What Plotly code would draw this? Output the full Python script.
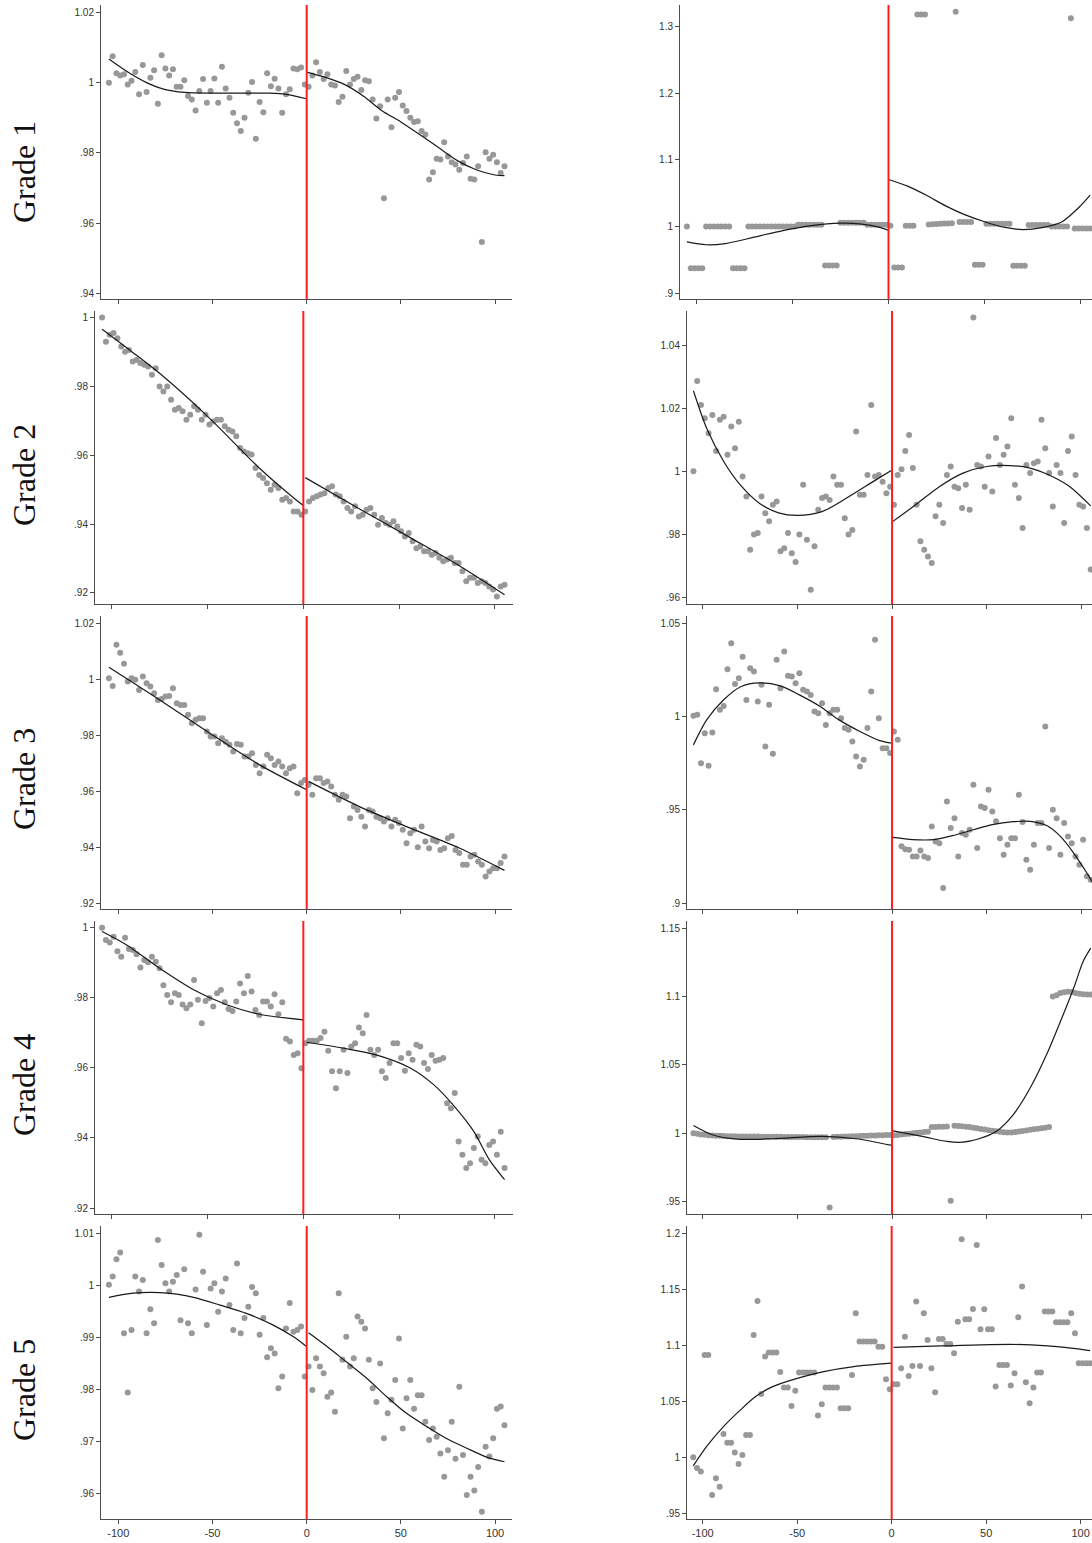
import plotly.graph_objects as go

W, H = 1092, 1543

# ---------------- running variable (x) grids ----------------
X_LEFT = list(range(-105, 0, 2))    # -105 ... -1
X_RIGHT = list(range(1, 106, 2))    # 1 ... 105
X_TICKS = [-100, -50, 0, 50, 100]
ROW_LABELS = ["Grade 1", "Grade 2", "Grade 3", "Grade 4", "Grade 5"]

# ---------------- Grade 1, left column ----------------
g1a_left = [1.0000, 1.0075, 1.0027, 1.0020, 1.0024, 0.9995, 1.0005, 1.0030, 0.9967, 1.0050,
            0.9973, 1.0014, 1.0035, 0.9940, 1.0078, 1.0040, 1.0020, 1.0038, 0.9988, 0.9988,
            1.0007, 0.9962, 0.9952, 0.9921, 0.9976, 1.0010, 0.9943, 0.9976, 1.0012, 0.9943,
            1.0045, 0.9983, 0.9957, 0.9914, 0.9884, 0.9862, 0.9900, 0.9971, 1.0002, 0.9840,
            0.9945, 0.9916, 1.0027, 0.9990, 1.0011, 0.9983, 0.9914, 0.9967, 0.9981, 1.0040,
            1.0038, 1.0043, 0.9995]
g1a_right = [0.9988, 1.0020, 1.0058, 1.0030, 1.0010, 1.0024, 0.9995, 0.9992, 0.9945, 0.9960,
             1.0033, 0.9995, 1.0010, 1.0017, 0.9979, 1.0007, 1.0004, 0.9952, 0.9898, 0.9933,
             0.9671, 0.9952, 0.9873, 0.9957, 0.9973, 0.9935, 0.9919, 0.9900, 0.9888, 0.9890,
             0.9862, 0.9852, 0.9724, 0.9745, 0.9783, 0.9781, 0.9830, 0.9790, 0.9773, 0.9767,
             0.9752, 0.9771, 0.9790, 0.9726, 0.9724, 0.9762, 0.9546, 0.9802, 0.9783, 0.9795,
             0.9773, 0.9743, 0.9762]
g1a_fitL_x = [-105, -95, -85, -75, -65, -50, -35, -20, -10, 0]
g1a_fitL_y = [1.0067, 1.0030, 1.0000, 0.9980, 0.9972, 0.9970, 0.9970, 0.9970, 0.9966, 0.9954]
g1a_fitR_x = [0, 10, 20, 30, 40, 50, 60, 70, 80, 90, 100, 105]
g1a_fitR_y = [1.0030, 1.0015, 0.9995, 0.9962, 0.9920, 0.9888, 0.9852, 0.9815, 0.9778, 0.9752, 0.9737, 0.9735]

# ---------------- Grade 1, right column ----------------
g1b_left = [1.0000, 0.9376, 0.9376, 0.9376, 0.9376, 1.0000, 1.0000, 1.0000, 1.0000, 1.0000,
            1.0000, 1.0000, 0.9376, 0.9376, 0.9376, 0.9376, 1.0000, 1.0000, 1.0000, 1.0000,
            1.0000, 1.0000, 1.0000, 1.0000, 1.0000, 1.0000, 1.0000, 1.0000, 1.0000, 1.0025,
            1.0025, 1.0025, 1.0025, 1.0025, 1.0025, 1.0025, 0.9416, 0.9416, 0.9416, 0.9416,
            1.0055, 1.0055, 1.0055, 1.0055, 1.0055, 1.0055, 1.0055, 1.0025, 1.0025, 1.0025,
            1.0025, 1.0025, 1.0025]
g1b_right = [1.0010, 0.9386, 0.9386, 0.9386, 1.0013, 1.0013, 1.0013, 1.3176, 1.3176, 1.3176,
             1.0030, 1.0033, 1.0037, 1.0040, 1.0044, 1.0047, 1.0050, 1.3220, 1.0068, 1.0068,
             1.0068, 1.0068, 0.9426, 0.9426, 0.9426, 1.0043, 1.0043, 1.0043, 1.0043, 1.0043,
             1.0043, 1.0043, 0.9411, 0.9411, 0.9411, 0.9411, 1.0023, 1.0023, 1.0023, 1.0023,
             1.0023, 1.0023, 1.0000, 1.0000, 1.0000, 1.0000, 1.0000, 1.3120, 0.9970, 0.9970,
             0.9970, 0.9970, 0.9970]
g1b_fitL_x = [-105, -95, -85, -70, -55, -40, -25, -15, -5, 0]
g1b_fitL_y = [0.9770, 0.9727, 0.9745, 0.9840, 0.9940, 1.0015, 1.0050, 1.0040, 0.9990, 0.9942]
g1b_fitR_x = [0, 10, 20, 30, 40, 50, 60, 70, 80, 90, 100, 105]
g1b_fitR_y = [1.0705, 1.0605, 1.0464, 1.0306, 1.0174, 1.0072, 0.9990, 0.9955, 0.9985, 1.0065, 1.0310, 1.0470]

# ---------------- Grade 2, left column ----------------
g2a_left = [1.0000, 0.9930, 0.9950, 0.9955, 0.9940, 0.9916, 0.9901, 0.9906, 0.9872, 0.9877,
            0.9868, 0.9863, 0.9858, 0.9834, 0.9853, 0.9800, 0.9785, 0.9800, 0.9761, 0.9732,
            0.9737, 0.9728, 0.9703, 0.9718, 0.9742, 0.9732, 0.9703, 0.9718, 0.9689, 0.9698,
            0.9703, 0.9703, 0.9684, 0.9674, 0.9669, 0.9655, 0.9621, 0.9611, 0.9606, 0.9602,
            0.9563, 0.9543, 0.9534, 0.9519, 0.9500, 0.9514, 0.9505, 0.9471, 0.9476, 0.9466,
            0.9437, 0.9437, 0.9427]
g2a_right = [0.9437, 0.9466, 0.9476, 0.9481, 0.9486, 0.9490, 0.9505, 0.9510, 0.9486, 0.9481,
             0.9466, 0.9447, 0.9437, 0.9452, 0.9422, 0.9427, 0.9442, 0.9447, 0.9427, 0.9398,
             0.9418, 0.9403, 0.9398, 0.9408, 0.9393, 0.9379, 0.9364, 0.9374, 0.9350, 0.9330,
             0.9335, 0.9321, 0.9321, 0.9311, 0.9316, 0.9302, 0.9292, 0.9297, 0.9302, 0.9287,
             0.9287, 0.9263, 0.9234, 0.9244, 0.9244, 0.9229, 0.9234, 0.9229, 0.9219, 0.9210,
             0.9190, 0.9219, 0.9224]
g2a_fitL_x = [-105, -90, -75, -49, -23, -5, 0]
g2a_fitL_y = [0.9966, 0.9903, 0.9838, 0.9708, 0.9563, 0.9476, 0.9454]
g2a_fitR_x = [1, 30, 56, 82, 105]
g2a_fitR_y = [0.9535, 0.9442, 0.9360, 0.9277, 0.9195]

# ---------------- Grade 2, right column ----------------
g2b_left = [1.0000, 1.0286, 1.0210, 1.0168, 1.0120, 1.0178, 1.0064, 1.0163, 1.0173, 1.0052,
            1.0142, 1.0073, 1.0157, 0.9983, 0.9920, 0.9751, 0.9799, 0.9804, 0.9920, 0.9867,
            0.9841, 0.9894, 0.9904, 0.9746, 0.9756, 0.9804, 0.9740, 0.9712, 0.9799, 0.9957,
            0.9783, 0.9624, 0.9762, 0.9878, 0.9915, 0.9920, 0.9909, 0.9983, 0.9957, 0.9957,
            0.9851, 0.9799, 0.9814, 1.0126, 0.9925, 0.9925, 0.9988, 1.0210, 0.9983, 0.9988,
            0.9967, 0.9930, 0.9951]
g2b_right = [0.9894, 0.9988, 1.0006, 1.0064, 1.0115, 1.0010, 0.9894, 0.9778, 0.9751, 0.9730,
             0.9709, 0.9857, 0.9894, 0.9836, 0.9988, 1.0015, 0.9951, 0.9946, 0.9883, 0.9957,
             0.9878, 1.0487, 1.0020, 1.0015, 0.9951, 1.0047, 0.9936, 1.0105, 1.0020, 1.0052,
             1.0078, 1.0168, 0.9957, 0.9915, 0.9820, 1.0020, 0.9994, 1.0025, 1.0031, 1.0163,
             1.0073, 0.9994, 0.9888, 1.0020, 0.9994, 0.9836, 1.0064, 1.0110, 0.9988, 0.9894,
             0.9888, 0.9820, 0.9688]
g2b_fitL_x = [-105, -98, -89, -80, -70, -60, -50, -37, -24, -10, 0]
g2b_fitL_y = [1.0255, 1.0136, 1.0031, 0.9955, 0.9898, 0.9868, 0.9860, 0.9872, 0.9915, 0.9967, 1.0004]
g2b_fitR_x = [0.5, 13, 25, 37.5, 50, 62, 73, 83, 94, 105]
g2b_fitR_y = [0.9841, 0.9896, 0.9951, 0.9994, 1.0015, 1.0018, 1.0010, 0.9988, 0.9951, 0.9890]

# ---------------- Grade 3, left column ----------------
g3a_left = [1.0004, 0.9976, 1.0123, 1.0095, 1.0055, 0.9992, 1.0004, 0.9998, 0.9962, 1.0010,
            0.9986, 0.9974, 0.9950, 0.9926, 0.9929, 0.9938, 0.9940, 0.9968, 0.9914, 0.9908,
            0.9908, 0.9873, 0.9843, 0.9855, 0.9861, 0.9861, 0.9813, 0.9795, 0.9795, 0.9771,
            0.9789, 0.9777, 0.9766, 0.9742, 0.9769, 0.9766, 0.9724, 0.9724, 0.9736, 0.9694,
            0.9664, 0.9688, 0.9730, 0.9718, 0.9694, 0.9706, 0.9688, 0.9664, 0.9682, 0.9688,
            0.9593, 0.9629, 0.9640]
g3a_right = [0.9623, 0.9587, 0.9646, 0.9646, 0.9629, 0.9635, 0.9617, 0.9587, 0.9569, 0.9587,
             0.9581, 0.9503, 0.9545, 0.9533, 0.9509, 0.9474, 0.9533, 0.9527, 0.9509, 0.9503,
             0.9492, 0.9503, 0.9474, 0.9498, 0.9486, 0.9462, 0.9414, 0.9450, 0.9462, 0.9400,
             0.9474, 0.9420, 0.9396, 0.9426, 0.9420, 0.9390, 0.9396, 0.9432, 0.9440, 0.9390,
             0.9379, 0.9337, 0.9337, 0.9367, 0.9373, 0.9349, 0.9337, 0.9295, 0.9313, 0.9325,
             0.9325, 0.9343, 0.9367]
g3a_fitL_x = [-105, -78, -51, -25, 0]
g3a_fitL_y = [1.0043, 0.9926, 0.9805, 0.9694, 0.9605]
g3a_fitR_x = [1, 28, 55, 81, 105]
g3a_fitR_y = [0.9635, 0.9545, 0.9468, 0.9397, 0.9317]

# ---------------- Grade 3, right column ----------------
g3b_left = [1.0004, 1.0009, 0.9750, 0.9911, 0.9736, 0.9914, 1.0146, 1.0036, 1.0057, 1.0254,
            1.0393, 1.0175, 1.0205, 1.0321, 1.0089, 1.0259, 1.0241, 1.0080, 1.0170, 0.9839,
            1.0063, 0.9800, 1.0304, 1.0152, 1.0348, 1.0218, 1.0214, 1.0179, 1.0232, 1.0143,
            1.0134, 1.0116, 1.0027, 1.0018, 1.0071, 0.9955, 1.0018, 1.0036, 1.0036, 0.9991,
            0.9938, 0.9929, 0.9866, 0.9786, 0.9732, 0.9768, 0.9938, 1.0134, 1.0411, 0.9991,
            0.9830, 0.9830, 0.9804]
g3b_right = [0.9920, 0.9875, 0.9304, 0.9289, 0.9286, 0.9250, 0.9250, 0.9282, 0.9250, 0.9241,
             0.9411, 0.9330, 0.9321, 0.9080, 0.9545, 0.9402, 0.9455, 0.9250, 0.9375, 0.9366,
             0.9393, 0.9634, 0.9295, 0.9518, 0.9509, 0.9607, 0.9491, 0.9438, 0.9348, 0.9259,
             0.9313, 0.9348, 0.9348, 0.9580, 0.9434, 0.9232, 0.9179, 0.9313, 0.9429, 0.9429,
             0.9946, 0.9295, 0.9500, 0.9455, 0.9259, 0.9429, 0.9357, 0.9321, 0.9250, 0.9205,
             0.9339, 0.9143, 0.9125]
g3b_fitL_x = [-105, -98, -89, -80, -70, -59, -49, -38, -28, -17, -6.5, 0]
g3b_fitL_y = [0.9848, 0.9982, 1.0090, 1.0160, 1.0180, 1.0164, 1.0116, 1.0054, 0.9982, 0.9920, 0.9871, 0.9857]
g3b_fitR_x = [0.5, 11, 22, 32, 43, 53, 64, 73, 82, 89, 96, 103, 106]
g3b_fitR_y = [0.9352, 0.9340, 0.9340, 0.9361, 0.9393, 0.9420, 0.9436, 0.9438, 0.9414, 0.9357, 0.9268, 0.9161, 0.9110]

# ---------------- Grade 4, left column ----------------
g4a_left = [1.0000, 0.9965, 0.9958, 0.9974, 0.9933, 0.9917, 0.9971, 0.9939, 0.9936, 0.9924,
            0.9886, 0.9908, 0.9901, 0.9917, 0.9903, 0.9884, 0.9836, 0.9808, 0.9787, 0.9813,
            0.9808, 0.9781, 0.9770, 0.9781, 0.9851, 0.9794, 0.9727, 0.9791, 0.9799, 0.9775,
            0.9813, 0.9822, 0.9787, 0.9768, 0.9762, 0.9789, 0.9841, 0.9813, 0.9862, 0.9818,
            0.9765, 0.9751, 0.9789, 0.9789, 0.9775, 0.9810, 0.9753, 0.9787, 0.9683, 0.9675,
            0.9637, 0.9642, 0.9599]
g4a_right = [0.9670, 0.9677, 0.9677, 0.9677, 0.9685, 0.9703, 0.9649, 0.9590, 0.9542, 0.9590,
             0.9652, 0.9585, 0.9661, 0.9670, 0.9715, 0.9699, 0.9751, 0.9652, 0.9637, 0.9652,
             0.9590, 0.9571, 0.9614, 0.9670, 0.9670, 0.9628, 0.9592, 0.9642, 0.9623, 0.9666,
             0.9661, 0.9614, 0.9597, 0.9637, 0.9620, 0.9623, 0.9628, 0.9499, 0.9485, 0.9528,
             0.9390, 0.9352, 0.9314, 0.9328, 0.9371, 0.9404, 0.9338, 0.9328, 0.9380, 0.9390,
             0.9352, 0.9418, 0.9314]
g4a_fitL_x = [-105, -92, -75, -57, -40, -23, 0]
g4a_fitL_y = [0.9989, 0.9950, 0.9884, 0.9822, 0.9780, 0.9753, 0.9737]
g4a_fitR_x = [1.7, 21, 38, 56, 68, 78, 89, 97, 105]
g4a_fitR_y = [0.9673, 0.9656, 0.9637, 0.9599, 0.9552, 0.9495, 0.9418, 0.9338, 0.9281]

# ---------------- Grade 4, right column ----------------
g4b_left = [1.0000, 0.9995, 0.9990, 0.9988, 0.9985, 0.9983, 0.9981, 0.9980, 0.9979, 0.9978,
            0.9977, 0.9977, 0.9976, 0.9976, 0.9976, 0.9975, 0.9975, 0.9975, 0.9974, 0.9974,
            0.9974, 0.9973, 0.9973, 0.9973, 0.9972, 0.9972, 0.9972, 0.9971, 0.9971, 0.9971,
            0.9970, 0.9970, 0.9970, 0.9969, 0.9969, 0.9969, 0.9456, 0.9972, 0.9973, 0.9974,
            0.9975, 0.9976, 0.9977, 0.9978, 0.9979, 0.9980, 0.9981, 0.9982, 0.9983, 0.9984,
            0.9985, 0.9986, 0.9987]
g4b_right = [0.9985, 0.9987, 0.9990, 0.9993, 0.9996, 0.9999, 1.0002, 1.0005, 1.0008, 1.0011,
             1.0044, 1.0045, 1.0046, 1.0047, 1.0048, 0.9505, 1.0054, 1.0052, 1.0050, 1.0047,
             1.0044, 1.0040, 1.0035, 1.0030, 1.0026, 1.0022, 1.0018, 1.0014, 1.0010, 1.0006,
             1.0005, 1.0005, 1.0008, 1.0012, 1.0016, 1.0020, 1.0024, 1.0028, 1.0032, 1.0036,
             1.0040, 1.0044, 1.1000, 1.1010, 1.1025, 1.1032, 1.1035, 1.1033, 1.1025, 1.1020,
             1.1017, 1.1015, 1.1015]
g4b_fitL_x = [-105, -95, -82, -63, -37, -19, 0]
g4b_fitL_y = [1.0056, 0.9988, 0.9956, 0.9959, 0.9976, 0.9959, 0.9910]
g4b_fitR_x = [0.5, 16, 29, 37.5, 46, 55, 64, 73, 82, 89, 96, 101, 105]
g4b_fitR_y = [1.0017, 0.9976, 0.9939, 0.9934, 0.9959, 1.0012, 1.0134, 1.0330, 1.0585, 1.0817, 1.1061, 1.1256, 1.1354]

# ---------------- Grade 5, left column ----------------
g5a_left = [1.0001, 1.0017, 1.0050, 1.0063, 0.9908, 0.9794, 0.9914, 1.0017, 0.9988, 1.0010,
            0.9908, 0.9954, 0.9927, 1.0087, 1.0039, 1.0004, 0.9988, 1.0007, 1.0020, 0.9933,
            1.0031, 0.9927, 0.9908, 0.9992, 1.0097, 1.0026, 0.9924, 0.9994, 1.0004, 0.9949,
            0.9988, 1.0013, 0.9962, 0.9914, 1.0042, 0.9908, 0.9937, 0.9959, 0.9997, 0.9985,
            0.9905, 0.9937, 0.9862, 0.9879, 0.9869, 0.9802, 0.9825, 0.9917, 0.9966, 0.9911,
            0.9914, 0.9921, 0.9825]
g5a_right = [0.9844, 0.9799, 0.9860, 0.9844, 0.9831, 0.9786, 0.9794, 0.9757, 0.9985, 0.9857,
             0.9901, 0.9844, 0.9860, 0.9940, 0.9930, 0.9917, 0.9857, 0.9802, 0.9776, 0.9850,
             0.9706, 0.9754, 0.9780, 0.9818, 0.9898, 0.9725, 0.9783, 0.9818, 0.9763, 0.9789,
             0.9789, 0.9738, 0.9703, 0.9725, 0.9709, 0.9677, 0.9632, 0.9683, 0.9738, 0.9667,
             0.9805, 0.9674, 0.9597, 0.9632, 0.9606, 0.9651, 0.9565, 0.9690, 0.9671, 0.9706,
             0.9763, 0.9767, 0.9731]
g5a_fitL_x = [-105, -92, -78, -69, -60, -46, -32, -18, -7, 0]
g5a_fitL_y = [0.9977, 0.9985, 0.9986, 0.9983, 0.9977, 0.9962, 0.9946, 0.9924, 0.9901, 0.9882]
g5a_fitR_x = [1, 11, 21, 32, 42.5, 53, 64, 74, 85, 95.5, 105]
g5a_fitR_y = [0.9909, 0.9882, 0.9853, 0.9821, 0.9786, 0.9754, 0.9728, 0.9706, 0.9687, 0.9670, 0.9661]

# ---------------- Grade 5, right column ----------------
g5b_left = [1.0000, 0.9905, 0.9872, 1.0914, 1.0914, 0.9664, 0.9812, 0.9738, 1.0208, 1.0130,
            1.0130, 1.0042, 0.9941, 1.0021, 1.0199, 1.0199, 1.1092, 1.1396, 1.0566, 1.0900,
            1.0935, 1.0935, 1.0935, 1.0762, 1.0622, 1.0622, 1.0458, 1.0595, 1.0756, 1.0756,
            1.0756, 1.0756, 1.0756, 1.0372, 1.0473, 1.0622, 1.0622, 1.0622, 1.0622, 1.0438,
            1.0438, 1.0438, 1.0735, 1.1286, 1.1033, 1.1033, 1.1033, 1.1033, 1.1033, 1.0988,
            1.0988, 1.0696, 1.0607]
g5b_right = [1.0652, 1.0652, 1.0795, 1.1077, 1.0726, 1.0816, 1.1390, 1.0816, 1.1286, 1.1048,
             1.0795, 1.0580, 1.1057, 1.1057, 1.1012, 1.1012, 1.0929, 1.1211, 1.1946, 1.1232,
             1.1232, 1.1324, 1.1896, 1.1143, 1.1321, 1.1143, 1.1143, 1.0631, 1.0825, 1.0825,
             1.0825, 1.0640, 1.0750, 1.1250, 1.1524, 1.0670, 1.0482, 1.0622, 1.0756, 1.0756,
             1.1301, 1.1301, 1.1301, 1.1205, 1.1205, 1.1205, 1.1205, 1.1286, 1.1107, 1.0840,
             1.0840, 1.0840, 1.0840]
g5b_fitL_x = [-105, -98, -89, -80, -72, -63, -50, -36, -20, 0]
g5b_fitL_y = [0.9923, 1.0095, 1.0274, 1.0423, 1.0542, 1.0631, 1.0705, 1.0765, 1.0810, 1.0840]
g5b_fitR_x = [1, 26, 52, 70, 87.5, 96, 105]
g5b_fitR_y = [1.0982, 1.0994, 1.1006, 1.1006, 1.0988, 1.0973, 1.0952]

# ---------------- y-axis ticks per panel ----------------
yt_g1a = [0.94, 0.96, 0.98, 1.0, 1.02]; ytt_g1a = [".94", ".96", ".98", "1", "1.02"]
yt_g1b = [0.9, 1.0, 1.1, 1.2, 1.3];     ytt_g1b = [".9", "1", "1.1", "1.2", "1.3"]
yt_g2a = [0.92, 0.94, 0.96, 0.98, 1.0]; ytt_g2a = [".92", ".94", ".96", ".98", "1"]
yt_g2b = [0.96, 0.98, 1.0, 1.02, 1.04]; ytt_g2b = [".96", ".98", "1", "1.02", "1.04"]
yt_g3a = [0.92, 0.94, 0.96, 0.98, 1.0, 1.02]; ytt_g3a = [".92", ".94", ".96", ".98", "1", "1.02"]
yt_g3b = [0.9, 0.95, 1.0, 1.05];        ytt_g3b = [".9", ".95", "1", "1.05"]
yt_g4a = [0.92, 0.94, 0.96, 0.98, 1.0]; ytt_g4a = [".92", ".94", ".96", ".98", "1"]
yt_g4b = [0.95, 1.0, 1.05, 1.1, 1.15];  ytt_g4b = [".95", "1", "1.05", "1.1", "1.15"]
yt_g5a = [0.96, 0.97, 0.98, 0.99, 1.0, 1.01]; ytt_g5a = [".96", ".97", ".98", ".99", "1", "1.01"]
yt_g5b = [0.95, 1.0, 1.05, 1.1, 1.15, 1.2]; ytt_g5b = [".95", "1", "1.05", "1.1", "1.15", "1.2"]

# ---------------- panel layout (pixel boxes, axis ranges) ----------------
panels = [
    dict(row=0, col=0, L=g1a_left, R=g1a_right, fl=(g1a_fitL_x, g1a_fitL_y), fr=(g1a_fitR_x, g1a_fitR_y),
         px=(101, 512), py=(5, 299), xr=(-109.2, 109.0), yr=(0.9384, 1.0221), yt=yt_g1a, ytt=ytt_g1a),
    dict(row=0, col=1, L=g1b_left, R=g1b_right, fl=(g1b_fitL_x, g1b_fitL_y), fr=(g1b_fitR_x, g1b_fitR_y),
         px=(680, 1092), py=(5, 299), xr=(-108.6, 106.0), yr=(0.8914, 1.332), yt=yt_g1b, ytt=ytt_g1b),
    dict(row=1, col=0, L=g2a_left, R=g2a_right, fl=(g2a_fitL_x, g2a_fitL_y), fr=(g2a_fitR_x, g2a_fitR_y),
         px=(95, 513), py=(311, 604), xr=(-108.7, 109.4), yr=(0.9168, 1.0019), yt=yt_g2a, ytt=ytt_g2a),
    dict(row=1, col=1, L=g2b_left, R=g2b_right, fl=(g2b_fitL_x, g2b_fitL_y), fr=(g2b_fitR_x, g2b_fitR_y),
         px=(687, 1092), py=(311, 604), xr=(-108.4, 105.7), yr=(0.9579, 1.0508), yt=yt_g2b, ytt=ytt_g2b),
    dict(row=2, col=0, L=g3a_left, R=g3a_right, fl=(g3a_fitL_x, g3a_fitL_y), fr=(g3a_fitR_x, g3a_fitR_y),
         px=(101, 512), py=(616, 909), xr=(-109.2, 109.0), yr=(0.9179, 1.0226), yt=yt_g3a, ytt=ytt_g3a),
    dict(row=2, col=1, L=g3b_left, R=g3b_right, fl=(g3b_fitL_x, g3b_fitL_y), fr=(g3b_fitR_x, g3b_fitR_y),
         px=(687, 1092), py=(616, 909), xr=(-108.4, 105.7), yr=(0.8968, 1.0539), yt=yt_g3b, ytt=ytt_g3b),
    dict(row=3, col=0, L=g4a_left, R=g4a_right, fl=(g4a_fitL_x, g4a_fitL_y), fr=(g4a_fitR_x, g4a_fitR_y),
         px=(95, 513), py=(921, 1214), xr=(-108.7, 109.4), yr=(0.9183, 1.0019), yt=yt_g4a, ytt=ytt_g4a),
    dict(row=3, col=1, L=g4b_left, R=g4b_right, fl=(g4b_fitL_x, g4b_fitL_y), fr=(g4b_fitR_x, g4b_fitR_y),
         px=(687, 1092), py=(921, 1214), xr=(-108.4, 105.7), yr=(0.9408, 1.1553), yt=yt_g4b, ytt=ytt_g4b),
    dict(row=4, col=0, L=g5a_left, R=g5a_right, fl=(g5a_fitL_x, g5a_fitL_y), fr=(g5a_fitR_x, g5a_fitR_y),
         px=(101, 512), py=(1226, 1519), xr=(-109.2, 109.0), yr=(0.9551, 1.0114), yt=yt_g5a, ytt=ytt_g5a),
    dict(row=4, col=1, L=g5b_left, R=g5b_right, fl=(g5b_fitL_x, g5b_fitL_y), fr=(g5b_fitR_x, g5b_fitR_y),
         px=(687, 1092), py=(1226, 1519), xr=(-108.3, 106.0), yr=(0.9449, 1.2065), yt=yt_g5b, ytt=ytt_g5b),
]
LABEL_Y = [172, 475, 779, 1085, 1390]

DOT = "rgb(152,152,152)"
AXC = "#4d4d4d"
TICKFONT = dict(family="Arial, Liberation Sans, sans-serif", size=10, color="#333333")

fig = go.Figure()
layout = dict(width=W, height=H, margin=dict(l=0, r=0, t=0, b=0, pad=0),
              paper_bgcolor="white", plot_bgcolor="white", showlegend=False,
              shapes=[], annotations=[])

for i, p in enumerate(panels, start=1):
    xa = "x" if i == 1 else f"x{i}"
    ya = "y" if i == 1 else f"y{i}"
    for xs, ys in ((X_LEFT, p["L"]), (X_RIGHT, p["R"])):
        n = min(len(xs), len(ys))
        fig.add_trace(go.Scatter(x=xs[:n], y=ys[:n], mode="markers", xaxis=xa, yaxis=ya,
                                 marker=dict(size=6, color=DOT, line=dict(width=0)),
                                 hoverinfo="skip"))
    for fx, fy in (p["fl"], p["fr"]):
        fig.add_trace(go.Scatter(x=fx, y=fy, mode="lines", xaxis=xa, yaxis=ya,
                                 line=dict(color="#1a1a1a", width=1.2, shape="spline", smoothing=0.8),
                                 hoverinfo="skip"))
    bottom = p["row"] == 4
    xkey = "xaxis" if i == 1 else f"xaxis{i}"
    ykey = "yaxis" if i == 1 else f"yaxis{i}"
    layout[xkey] = dict(domain=[p["px"][0] / W, p["px"][1] / W], anchor=ya, range=list(p["xr"]),
                        showgrid=False, zeroline=False, showline=True, linecolor=AXC, linewidth=1,
                        ticks="outside", ticklen=4, tickcolor=AXC, tickwidth=1,
                        tickvals=X_TICKS, ticktext=[str(v) for v in X_TICKS],
                        showticklabels=bottom,
                        tickfont=dict(family="Arial, Liberation Sans, sans-serif", size=11, color="#333333"))
    layout[ykey] = dict(domain=[1 - p["py"][1] / H, 1 - p["py"][0] / H], anchor=xa, range=list(p["yr"]),
                        showgrid=False, zeroline=False, showline=True, linecolor=AXC, linewidth=1,
                        ticks="outside", ticklen=4, tickcolor=AXC, tickwidth=1,
                        tickvals=p["yt"], ticktext=p["ytt"], tickfont=TICKFONT)
    layout["shapes"].append(dict(type="line", xref=xa, yref=f"{ya} domain", x0=0, x1=0, y0=0, y1=1,
                                 line=dict(color="rgb(255,30,30)", width=2), layer="above"))

for r, lab in enumerate(ROW_LABELS):
    layout["annotations"].append(dict(text=lab, xref="paper", yref="paper",
                                      x=24 / W, y=1 - LABEL_Y[r] / H, showarrow=False,
                                      textangle=-90, xanchor="center", yanchor="middle",
                                      font=dict(family="Liberation Serif, Times New Roman, serif",
                                                size=32, color="#111111")))

fig.update_layout(**layout)
fig.write_html("out.html",
               config={"displayModeBar": False, "staticPlot": True},
               post_script="document.body.style.margin='0px';document.body.style.padding='0px';"
                           "document.documentElement.style.overflow='hidden';")
